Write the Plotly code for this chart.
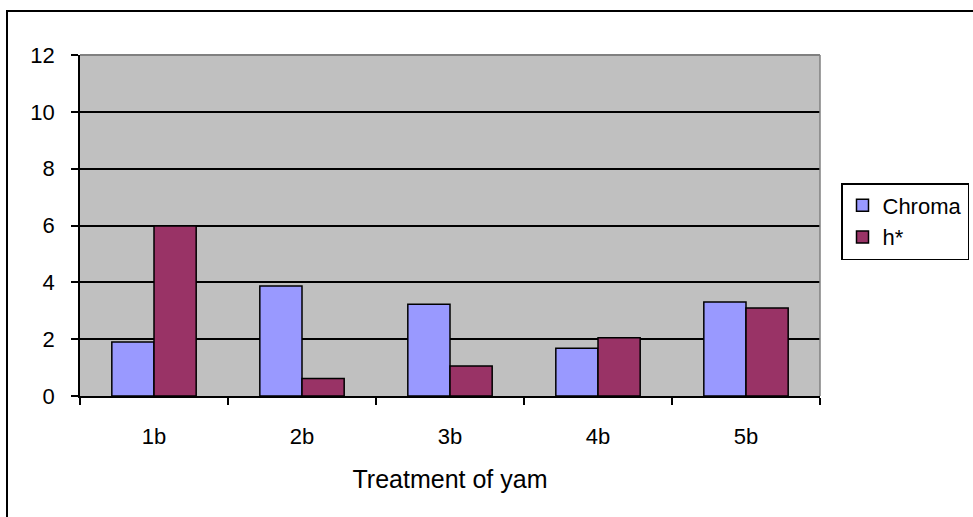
import plotly.graph_objects as go

categories = ["1b", "2b", "3b", "4b", "5b"]
chroma = [1.9, 3.87, 3.23, 1.68, 3.31]
h_star = [5.98, 0.62, 1.06, 2.05, 3.10]
y_ticks = [0, 2, 4, 6, 8, 10, 12]

FONT = "Liberation Sans, Arial, sans-serif"

fig = go.Figure()
fig.add_trace(go.Bar(name="Chroma", x=categories, y=chroma,
                     marker=dict(color="#9999FF", line=dict(color="black", width=1.5))))
fig.add_trace(go.Bar(name="h*", x=categories, y=h_star,
                     marker=dict(color="#993366", line=dict(color="black", width=1.5))))

W, H = 973, 517
L, R, T, B = 80, 153, 55, 121

fig.update_layout(
    width=W, height=H,
    margin=dict(l=L, r=R, t=T, b=B, pad=0, autoexpand=False),
    paper_bgcolor="white",
    plot_bgcolor="#C0C0C0",
    barmode="group", bargap=0.43, bargroupgap=0,
    font=dict(family=FONT, size=22, color="black"),
    showlegend=True,
    legend=dict(x=(841 - L) / (W - L - R), y=1 - (183 - T) / (H - T - B),
                xanchor="left", yanchor="top",
                bgcolor="white", bordercolor="black", borderwidth=1.5,
                font=dict(family=FONT, size=22),
                tracegroupgap=9, itemwidth=30),
    xaxis=dict(
        type="category", automargin=False,
        showline=True, linecolor="black", linewidth=1.5,
        ticks="outside", ticklen=7, tickwidth=1.5, tickcolor="black",
        tickson="boundaries",
        ticklabelstandoff=20,
        tickfont=dict(family=FONT, size=22),
        title=dict(text="Treatment of yam", font=dict(family=FONT, size=25), standoff=22),
        showgrid=False,
    ),
    yaxis=dict(
        range=[0, 12], tickvals=y_ticks, automargin=False,
        showline=True, linecolor="black", linewidth=1.5,
        ticks="outside", ticklen=7, tickwidth=1.5, tickcolor="black",
        ticklabelstandoff=12,
        tickfont=dict(family=FONT, size=22),
        showgrid=True, gridcolor="black", gridwidth=1.5,
        zeroline=False,
    ),
)

# plot-area frame: gray top and right edges
fig.add_shape(type="line", xref="paper", yref="paper", x0=0, x1=1, y0=1, y1=1,
              line=dict(color="#808080", width=2), layer="above")
fig.add_shape(type="line", xref="paper", yref="paper", x0=1, x1=1, y0=0, y1=1,
              line=dict(color="#808080", width=1.5), layer="above")
# outer chart border (black), extends past the visible window on right/bottom
px_w = W - L - R
px_h = H - T - B
fig.add_shape(type="rect", xref="paper", yref="paper",
              x0=(7 - L) / px_w, x1=(990 - L) / px_w,
              y0=1 - (540 - T) / px_h, y1=1 - (11 - T) / px_h,
              line=dict(color="black", width=2))

fig.write_html("out.html",
               config={"displayModeBar": False},
               post_script="document.body.style.margin='0px';document.body.style.overflow='hidden';")
